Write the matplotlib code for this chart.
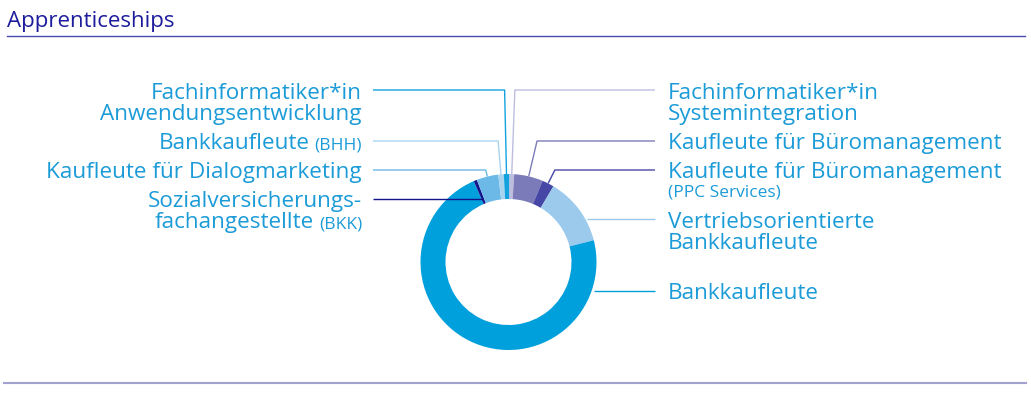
import matplotlib.pyplot as plt
import numpy as np

plt.rcParams['font.family'] = ['Open Sans', 'DejaVu Sans']

W, H = 1031, 394

# slices, clockwise from 12 o'clock (share in %)
names = [
    "Fachinformatiker*in Systemintegration",
    "Kaufleute für Büromanagement",
    "Kaufleute für Büromanagement (PPC Services)",
    "Vertriebsorientierte Bankkaufleute",
    "Bankkaufleute",
    "Sozialversicherungsfachangestellte (BKK)",
    "Kaufleute für Dialogmarketing",
    "Bankkaufleute (BHH)",
    "Fachinformatiker*in Anwendungsentwicklung",
]
shares = [0.9, 5.3, 2.2, 12.5, 72.6, 0.6, 4.0, 1.0, 1.0]
colors = ['#bdbde0', '#7b7bb9', '#4646a6', '#9bcaec', '#00a0dc',
          '#14148c', '#6cb8e6', '#a8d4f0', '#12a3df']

# label text: list of (main, small) per line
label_lines = [
    [("Fachinformatiker*in", ""), ("Systemintegration", "")],
    [("Kaufleute für Büromanagement", "")],
    [("Kaufleute für Büromanagement", ""), ("", "(PPC Services)")],
    [("Vertriebsorientierte", ""), ("Bankkaufleute", "")],
    [("Bankkaufleute", "")],
    [("Sozialversicherungs-", ""), ("fachangestellte", "(BKK)")],
    [("Kaufleute für Dialogmarketing", "")],
    [("Bankkaufleute", "(BHH)")],
    [("Fachinformatiker*in", ""), ("Anwendungsentwicklung", "")],
]

# layout (pixels from top)
side = ['R', 'R', 'R', 'R', 'R', 'L', 'L', 'L', 'L']
baselines = [[99, 120], [149], [178, 196], [228, 249], [299],
             [207, 228], [178], [149], [99, 120]]
leader_y = [90, 141, 170, 219, 291, 199, 170, 141, 90]
mode = ['bend', 'bend', 'bend', 'edge', 'edge', 'ray', 'bend', 'bend', 'bend']

CX, CY, R, R_IN = 508.5, 262, 88, 63
start = 0.5  # degrees clockwise from top

text_col = '#1b9bd7'
FS, FS_SMALL = 16.2, 12.5
fig = plt.figure(figsize=(W / 100, H / 100), dpi=100)

axp = fig.add_axes([(CX - R) / W, (H - CY - R) / H, 2 * R / W, 2 * R / H])
axp.pie(shares, colors=colors, startangle=90 - start, counterclock=False,
        radius=1, wedgeprops=dict(width=(R - R_IN) / R, linewidth=0))
axp.set_xlim(-1, 1)
axp.set_ylim(-1, 1)
axp.set_aspect('equal')
axp.axis('off')

ax = fig.add_axes([0, 0, 1, 1])
ax.set_xlim(0, W)
ax.set_ylim(H, 0)
ax.axis('off')
ax.patch.set_alpha(0)

# header and rules
ax.text(7, 26.5, "Apprenticeships", color='#1c1c9c', fontsize=16,
        ha='left', va='baseline')
ax.plot([7, 1025], [35.5, 35.5], color='#4a4ab4', lw=1)
ax.plot([4, 1026], [382.5, 382.5], color='#a2a2cf', lw=1.5)

frac = np.array(shares) / sum(shares) * 360
edges = start + np.concatenate([[0], np.cumsum(frac)])
mids = (edges[:-1] + edges[1:]) / 2

LX_TEXT, LX_LINE = 362, 373
RX_TEXT, RX_LINE = 668, 655

for i in range(len(shares)):
    a = np.radians(mids[i])
    sx, sy = np.sin(a), -np.cos(a)
    ly = leader_y[i]
    if mode[i] == 'bend':
        ox, oy = CX + R * sx, CY + R * sy
        t = (ly - oy) / sy
        bx = ox + t * sx
        pts_x, pts_y = [ox, bx], [oy, ly]
        far = bx
    elif mode[i] == 'edge':
        dx = np.sqrt(R ** 2 - (ly - CY) ** 2)
        far = CX + dx + 2 if side[i] == 'R' else CX - dx - 2
        pts_x, pts_y = [], []
    else:
        r = (ly - CY) / sy
        far = CX + r * sx
        pts_x, pts_y = [], []
    end = RX_LINE if side[i] == 'R' else LX_LINE
    ax.plot(pts_x + [far, end], pts_y + [ly, ly], color=colors[i], lw=1,
            solid_capstyle='butt')

    for (main, small), yb in zip(label_lines[i], baselines[i]):
        if side[i] == 'R':
            if main:
                ax.text(RX_TEXT, yb, main, color=text_col, fontsize=FS,
                        ha='left', va='baseline')
            else:
                ax.text(RX_TEXT, yb, small, color=text_col, fontsize=FS_SMALL,
                        ha='left', va='baseline')
        else:
            if small:
                ts = ax.text(LX_TEXT, yb, small, color=text_col,
                             fontsize=FS_SMALL, ha='right', va='baseline')
                ax.annotate(main, xy=(0, yb), xycoords=(ts, 'data'),
                            xytext=(-5, 0), textcoords='offset pixels',
                            color=text_col, fontsize=FS,
                            ha='right', va='baseline')
            else:
                ax.text(LX_TEXT, yb, main, color=text_col, fontsize=FS,
                        ha='right', va='baseline')

fig.savefig('out.png', dpi=100)
